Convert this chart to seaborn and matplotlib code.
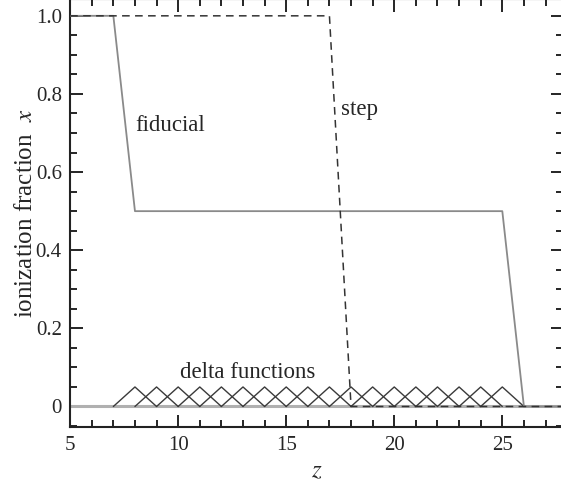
import matplotlib
matplotlib.use("Agg")
import matplotlib.pyplot as plt
import seaborn as sns
import numpy as np
import pandas as pd
from matplotlib.ticker import MultipleLocator

# ---- data ----
fiducial_z = [5, 7, 8, 25, 26, 28]
fiducial_x = [1.0, 1.0, 0.5, 0.5, 0.0, 0.0]

step_z = [5, 17, 18, 28]
step_x = [1.0, 1.0, 0.0, 0.0]

delta_centers = [8, 9, 10, 11, 12, 13, 14, 15, 16, 17, 18, 19, 20, 21, 22, 23, 24, 25]
delta_halfwidth = 1.0
delta_height = 0.05

y_ticks = [0, 0.2, 0.4, 0.6, 0.8, 1.0]
y_ticklabels = ["0", "0.2", "0.4", "0.6", "0.8", "1.0"]
x_ticks = [5, 10, 15, 20, 25]

sns.set_style("ticks")
plt.rcParams["font.family"] = ["Liberation Serif", "DejaVu Serif"]
plt.rcParams["mathtext.fontset"] = "stix"

fig = plt.figure(figsize=(5.61, 4.86), dpi=100)
# axes frame runs slightly past the right/top edge, as in the cropped original
ax = fig.add_axes([0.125, 0.121, 0.879, 0.881])

# zero baseline
ax.axhline(0, color="#b0b0b0", lw=2.2, zorder=1)

# delta functions (triangles)
for c in delta_centers:
    tri = pd.DataFrame({
        "z": [c - delta_halfwidth, c, c + delta_halfwidth],
        "x": [0, delta_height, 0],
    })
    sns.lineplot(data=tri, x="z", y="x", ax=ax, color="#3a3a3a", lw=1.0,
                 sort=False, estimator=None, zorder=2)

fid = pd.DataFrame({"z": fiducial_z, "x": fiducial_x})
sns.lineplot(data=fid, x="z", y="x", ax=ax, color="#8a8a8a", lw=1.3,
             sort=False, estimator=None, zorder=3)

stp = pd.DataFrame({"z": step_z, "x": step_x})
sns.lineplot(data=stp, x="z", y="x", ax=ax, color="#333333", lw=1.1,
             sort=False, estimator=None, zorder=3)
ax.lines[-1].set_dashes([5, 3.5])

ax.text(8.0, 0.72, "fiducial", fontsize=16.5, va="center", ha="left")
ax.text(17.55, 0.76, "step", fontsize=16.5, va="center", ha="left")
ax.text(10.1, 0.086, "delta functions", fontsize=16.5, va="center", ha="left")

ax.set_xlim(5, 27.82)
ax.set_ylim(-0.053, 1.043)

ax.set_xticks(x_ticks)
ax.xaxis.set_minor_locator(MultipleLocator(1))
ax.set_yticks(y_ticks)
ax.set_yticklabels(y_ticklabels)
ax.yaxis.set_minor_locator(MultipleLocator(0.05))

ax.tick_params(which="both", direction="in", top=True, right=True,
               labelsize=15, width=1.2, color="black", pad=6)
ax.tick_params(which="major", length=9)
ax.tick_params(which="minor", length=5)

for sp in ax.spines.values():
    sp.set_linewidth(1.5)
    sp.set_color("#222222")

ax.set_xlabel("$z$", fontsize=18, labelpad=4)
ax.set_ylabel("ionization fraction  $x$", fontsize=18, labelpad=-1)

fig.savefig("out.png", dpi=100)
